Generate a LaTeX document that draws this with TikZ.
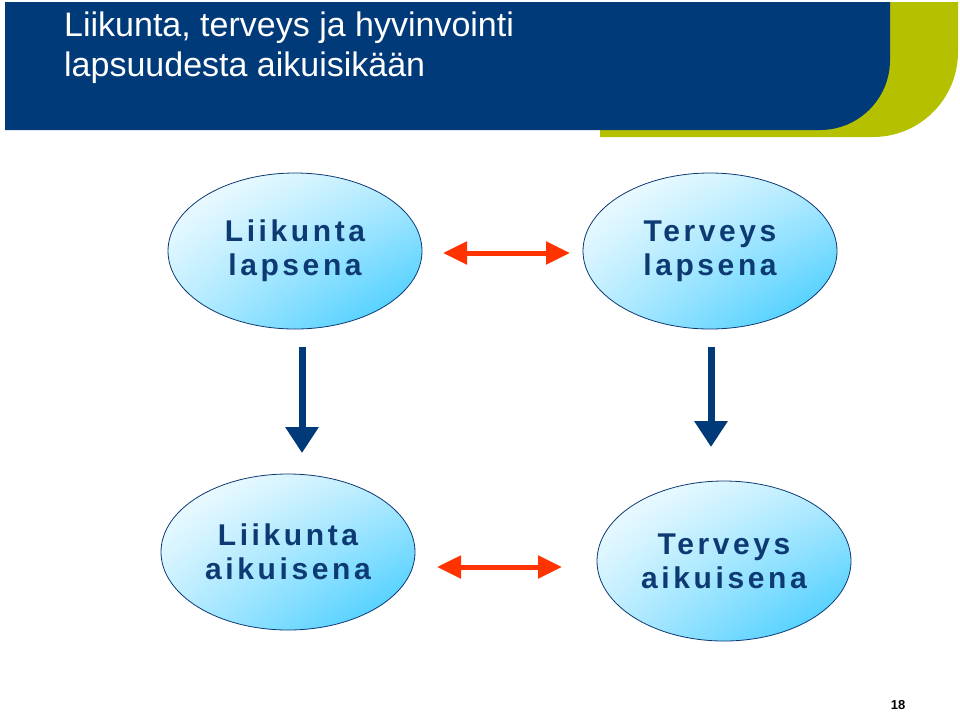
\documentclass[tikz,border=0pt]{standalone}
\usepackage{fontspec}
\setmainfont{Liberation Sans}
\newfontfamily\spaced[LetterSpace=12]{Liberation Sans}
\usetikzlibrary{arrows.meta,shapes.geometric,shadings}
\definecolor{hblue}{HTML}{003A78}
\definecolor{hgreen}{HTML}{B5C000}
\definecolor{tblue}{HTML}{0D3A73}
\definecolor{rarr}{HTML}{FF3300}
\definecolor{scyan}{HTML}{33C8FF}
\tikzset{
 oval/.style={ellipse, draw=tblue, line width=0.8pt, minimum width=254pt, minimum height=156pt,
   shade, upper left=white, lower right=scyan, upper right=scyan!35!white, lower left=scyan!35!white,
   font=\spaced\bfseries\fontsize{30}{34}\selectfont, text=tblue, align=center, inner sep=0pt},
 redarr/.style={draw=rarr, line width=5pt, {Triangle[length=24pt,width=22pt]}-{Triangle[length=24pt,width=22pt]}},
 bluearr/.style={draw=hblue, line width=7pt, -{Triangle[length=26pt,width=32pt]}}
}
\begin{document}
\begin{tikzpicture}[x=1pt,y=-1pt]
\useasboundingbox (0,0) rectangle (960,713);
\fill[hgreen] (600,2) -- (958,2) -- (958,52) arc[start angle=0,end angle=90,radius=85] -- (600,137) -- cycle;
\fill[hblue] (5,2) -- (890,2) -- (890,60) arc[start angle=0,end angle=90,radius=70] -- (5,130) -- cycle;
\node[anchor=north west, text=white, align=left, font=\fontsize{34}{40}\selectfont, inner sep=0pt] (title) at (64,12)
 {Liikunta, terveys ja hyvinvointi\\lapsuudesta aikuisikään};
\node[oval] (a) at (295,251) {Liikunta\\lapsena};
\node[oval] (b) at (710,251) {Terveys\\lapsena};
\node[oval] (c) at (288,552) {Liikunta\\aikuisena};
\node[oval, minimum height=160pt] (d) at (724,561) {Terveys\\aikuisena};
\coordinate (r1) at (443,253); \coordinate (r2) at (570,253);
\coordinate (r3) at (437,567); \coordinate (r4) at (562,567);
\draw[redarr] (r1) -- (r2);
\draw[redarr] (r3) -- (r4);
\coordinate (b1) at (302,347); \coordinate (b2) at (302,453);
\coordinate (b3) at (711,347); \coordinate (b4) at (711,447);
\draw[bluearr] (b1) -- (b2);
\draw[bluearr] (b3) -- (b4);
\node[font=\bfseries\fontsize{13}{15}\selectfont, inner sep=0pt] (pg) at (898,705) {18};
\end{tikzpicture}
\end{document}
